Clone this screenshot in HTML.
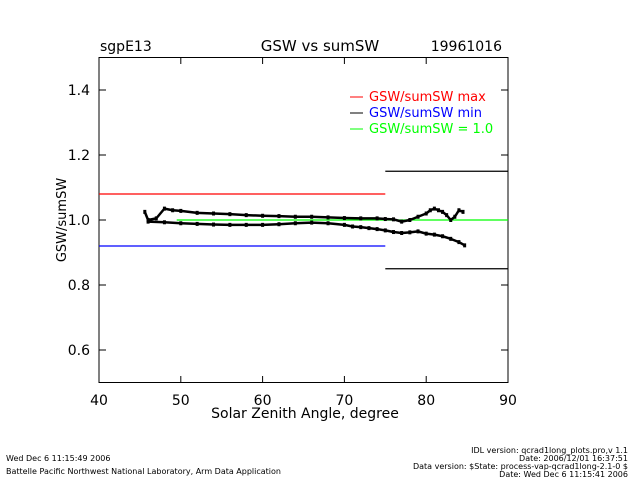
<!DOCTYPE html>
<html><head><meta charset="utf-8"><style>
body{margin:0;background:#fff}
svg{display:block;font-family:"DejaVu Sans","Liberation Sans",sans-serif}
</style></head><body>
<svg id="c" width="640" height="480">
<text x="100" y="51" font-size="14">sgpE13</text>
<text x="320" y="51" font-size="15" text-anchor="middle">GSW vs sumSW</text>
<text x="502" y="51" font-size="14" text-anchor="end">19961016</text>
<rect x="99" y="57.5" width="409" height="325" fill="none" stroke="#000"/>
<g id="ax"></g>
<g id="marks"></g>
<text x="305" y="418" font-size="14" text-anchor="middle">Solar Zenith Angle, degree</text>
<text x="0" y="0" font-size="13" text-anchor="middle" transform="translate(66,220) rotate(-90)">GSW/sumSW</text>
<g>
<line x1="350" y1="97" x2="363" y2="97" stroke="red"/>
<text x="369" y="101" font-size="13" fill="red">GSW/sumSW max</text>
<line x1="350" y1="113" x2="363" y2="113" stroke="#000"/>
<text x="369" y="117" font-size="13" fill="#0000ff">GSW/sumSW min</text>
<line x1="350" y1="129" x2="363" y2="129" stroke="#00ff00"/>
<text x="369" y="133" font-size="13" fill="#00ff00">GSW/sumSW = 1.0</text>
</g>
<text x="6" y="461" font-size="8">Wed Dec  6 11:15:49 2006</text>
<text x="6" y="474" font-size="8">Battelle Pacific Northwest National Laboratory, Arm Data Application</text>
<g font-size="8" text-anchor="end">
<text x="628" y="453">IDL version: qcrad1long_plots.pro,v 1.1</text>
<text x="628" y="461">Date: 2006/12/01 16:37:51</text>
<text x="628" y="469">Data version: $State: process-vap-qcrad1long-2.1-0 $</text>
<text x="628" y="477">Date: Wed Dec  6 11:15:41 2006</text>
</g>
</svg>
<script>
const xTicks=[40,50,60,70,80,90];
const yTicks=[0.6,0.8,1.0,1.2,1.4];
const yTickLabels=["0.6","0.8","1.0","1.2","1.4"];
const upperSza=[45.6,46,47,48,49,50,52,54,56,58,60,62,64,66,68,70,72,74,75,76,77,78,79,80,80.5,81,81.5,82,82.5,83,83.5,84,84.5];
const upperVal=[1.025,1.0,1.005,1.035,1.03,1.028,1.022,1.02,1.018,1.015,1.013,1.012,1.01,1.01,1.008,1.006,1.005,1.005,1.003,1.002,0.995,1.0,1.01,1.02,1.03,1.035,1.03,1.025,1.015,1.0,1.01,1.03,1.025];
const lowerSza=[46,48,50,52,54,56,58,60,62,64,66,68,70,71,72,73,74,75,76,77,78,79,80,81,82,83,84,84.7];
const lowerVal=[0.995,0.993,0.99,0.988,0.986,0.985,0.985,0.985,0.987,0.99,0.992,0.99,0.985,0.98,0.978,0.975,0.972,0.968,0.963,0.96,0.962,0.965,0.958,0.955,0.95,0.942,0.932,0.922];
const refMax=1.08, refMin=0.92, refOne=1.0, bandMax=1.15, bandMin=0.85;
const X=v=>99+(v-40)/50*409;
const Y=v=>382.5-(v-0.5)/1.0*325;
const NS="http://www.w3.org/2000/svg";
const ax=document.getElementById('ax'),mk=document.getElementById('marks');
function el(p,t,a){const e=document.createElementNS(NS,t);for(const k in a)e.setAttribute(k,a[k]);p.appendChild(e);return e;}
xTicks.forEach(t=>{
 const l=el(ax,'line',{x1:X(t),x2:X(t),y1:382.5,y2:376,stroke:'#000'});
 
 
 const l2=el(ax,'line',{x1:X(t),x2:X(t),y1:57.5,y2:64,stroke:'#000'});
 
 
 const tx=el(ax,'text',{x:X(t),y:405,'font-size':14,'text-anchor':'middle'});tx.textContent=t;
 
 
});
yTicks.forEach((t,i)=>{
 const l=el(ax,'line',{x1:99,x2:106,y1:Y(t),y2:Y(t),stroke:'#000'});
 
 
 const l2=el(ax,'line',{x1:501,x2:508,y1:Y(t),y2:Y(t),stroke:'#000'});
 
 
 const tx=el(ax,'text',{x:90,y:Y(t)+5,'font-size':14,'text-anchor':'end'});tx.textContent=yTickLabels[i];
 
 
});
function hl(x1,x2,v,c,n){const l=el(mk,'line',{x1:X(x1),x2:X(x2),y1:Y(v),y2:Y(v),stroke:c,'stroke-width':1.2});
 
 }
hl(40,75,refMax,'red','max-line');
hl(40,75,refMin,'#0000ff','min-line');
hl(75,90,bandMax,'#000','upper-band-line');
hl(75,90,bandMin,'#000','lower-band-line');
hl(49.5,90,refOne,'#00ff00','one-line');
function series(xs,vs,n){
 const p=el(mk,'polyline',{points:xs.map((x,i)=>X(x)+','+Y(vs[i])).join(' '),fill:'none',stroke:'#000','stroke-width':2.5,'stroke-linejoin':'round'});
 
 
 xs.forEach((x,i)=>{const r=el(mk,'rect',{x:X(x)-1.5,y:Y(vs[i])-2,width:3,height:4,fill:'#000'});
 
 });
}
series(upperSza,upperVal,'upper-branch');
series(lowerSza,lowerVal,'lower-branch');
</script>
</body></html>
